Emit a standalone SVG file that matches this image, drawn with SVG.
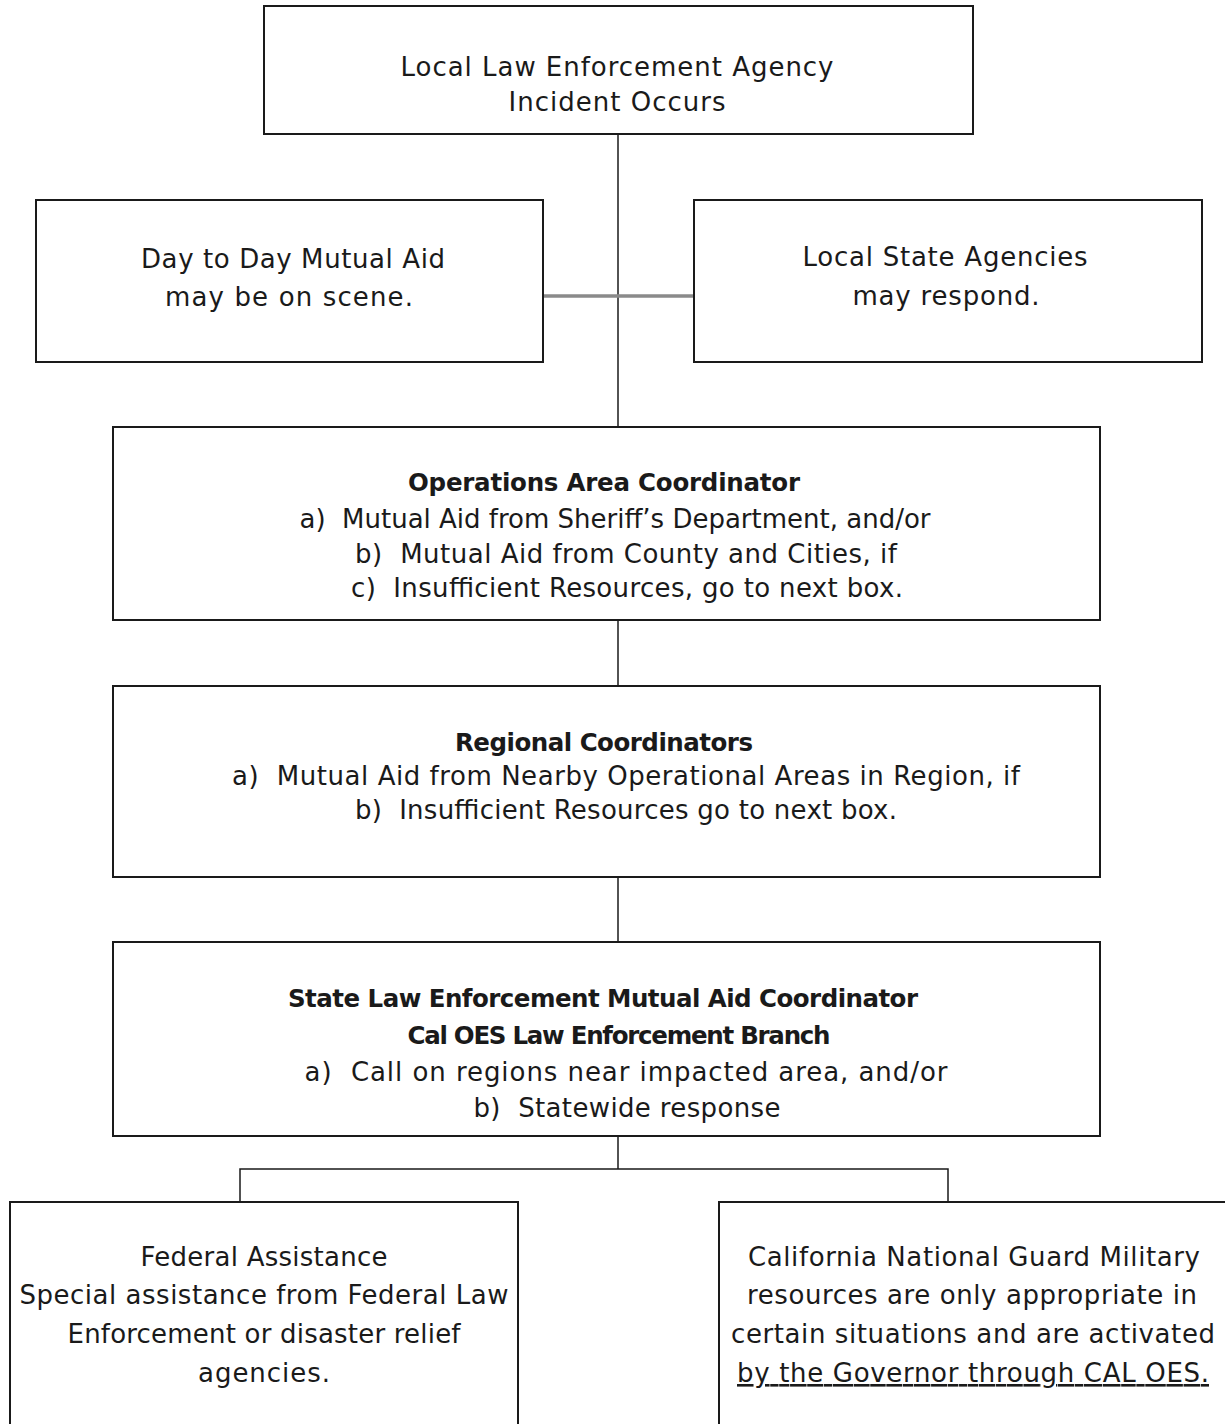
<svg xmlns="http://www.w3.org/2000/svg" width="1225" height="1424" viewBox="0 0 1225 1424">
<style>
.box{fill:#fff;stroke:#1a1a1a;stroke-width:2}
.t{font-family:"DejaVu Sans","Liberation Sans",sans-serif;font-size:26px;fill:#1a1a1a;text-anchor:middle;white-space:pre}
.b{font-weight:bold;font-size:24.5px}
.ln{stroke:#1a1a1a;stroke-width:1.5;fill:none}
.gl{stroke:#8a8a8a;stroke-width:3.5;fill:none}
</style>
<rect width="1225" height="1424" fill="#fff"/>
<g id="connectors">
<line class="ln" x1="618" y1="134" x2="618" y2="427"/>
<line class="gl" x1="543" y1="296" x2="694" y2="296"/>
<line class="ln" x1="618" y1="620" x2="618" y2="686"/>
<line class="ln" x1="618" y1="877" x2="618" y2="942"/>
<line class="ln" x1="618" y1="1136" x2="618" y2="1169"/>
<polyline class="ln" points="240,1202 240,1169 948,1169 948,1202"/>
</g>
<g id="n-local">
<rect class="box" x="264" y="6" width="709" height="128"/>
<text class="t" x="617" y="76" textLength="433" lengthAdjust="spacing">Local Law Enforcement Agency</text>
<text class="t" x="617" y="111" textLength="217" lengthAdjust="spacing">Incident Occurs</text>
</g>
<g id="n-daytoday">
<rect class="box" x="36" y="200" width="507" height="162"/>
<text class="t" x="293" y="268" textLength="304" lengthAdjust="spacing">Day to Day Mutual Aid</text>
<text class="t" x="289" y="306" textLength="248" lengthAdjust="spacing">may be on scene.</text>
</g>
<g id="n-localstate">
<rect class="box" x="694" y="200" width="508" height="162"/>
<text class="t" x="945" y="266" textLength="285" lengthAdjust="spacing">Local State Agencies</text>
<text class="t" x="946" y="305" textLength="187" lengthAdjust="spacing">may respond.</text>
</g>
<g id="n-ops">
<rect class="box" x="113" y="427" width="987" height="193"/>
<text class="t b" x="604" y="491" textLength="392" lengthAdjust="spacing">Operations Area Coordinator</text>
<text class="t" x="615" y="528" textLength="631" lengthAdjust="spacing">a)  Mutual Aid from Sheriff’s Department, and/or</text>
<text class="t" x="626" y="563" textLength="542" lengthAdjust="spacing">b)  Mutual Aid from County and Cities, if</text>
<text class="t" x="627" y="597" textLength="552" lengthAdjust="spacing">c)  Insufficient Resources, go to next box.</text>
</g>
<g id="n-regional">
<rect class="box" x="113" y="686" width="987" height="191"/>
<text class="t b" x="604" y="751" textLength="298" lengthAdjust="spacing">Regional Coordinators</text>
<text class="t" x="626" y="785" textLength="788" lengthAdjust="spacing">a)  Mutual Aid from Nearby Operational Areas in Region, if</text>
<text class="t" x="626" y="819" textLength="542" lengthAdjust="spacing">b)  Insufficient Resources go to next box.</text>
</g>
<g id="n-state">
<rect class="box" x="113" y="942" width="987" height="194"/>
<text class="t b" x="603" y="1007" textLength="630" lengthAdjust="spacing">State Law Enforcement Mutual Aid Coordinator</text>
<text class="t b" x="619" y="1044" textLength="423" lengthAdjust="spacing">Cal OES Law Enforcement Branch</text>
<text class="t" x="626" y="1081" textLength="643" lengthAdjust="spacing">a)  Call on regions near impacted area, and/or</text>
<text class="t" x="627" y="1117" textLength="307" lengthAdjust="spacing">b)  Statewide response</text>
</g>
<g id="n-federal">
<rect class="box" x="10" y="1202" width="508" height="240"/>
<text class="t" x="264" y="1266" textLength="247" lengthAdjust="spacing">Federal Assistance</text>
<text class="t" x="264" y="1304" textLength="489" lengthAdjust="spacing">Special assistance from Federal Law</text>
<text class="t" x="264" y="1343" textLength="393" lengthAdjust="spacing">Enforcement or disaster relief</text>
<text class="t" x="264" y="1382" textLength="132" lengthAdjust="spacing">agencies.</text>
</g>
<g id="n-guard">
<rect class="box" x="719" y="1202" width="520" height="240"/>
<text class="t" x="974" y="1266" textLength="452" lengthAdjust="spacing">California National Guard Military</text>
<text class="t" x="972" y="1304" textLength="450" lengthAdjust="spacing">resources are only appropriate in</text>
<text class="t" x="973" y="1343" textLength="484" lengthAdjust="spacing">certain situations and are activated</text>
<text class="t" x="973" y="1382" textLength="472" lengthAdjust="spacing" text-decoration="underline">by the Governor through CAL OES.</text>
</g>
</svg>
